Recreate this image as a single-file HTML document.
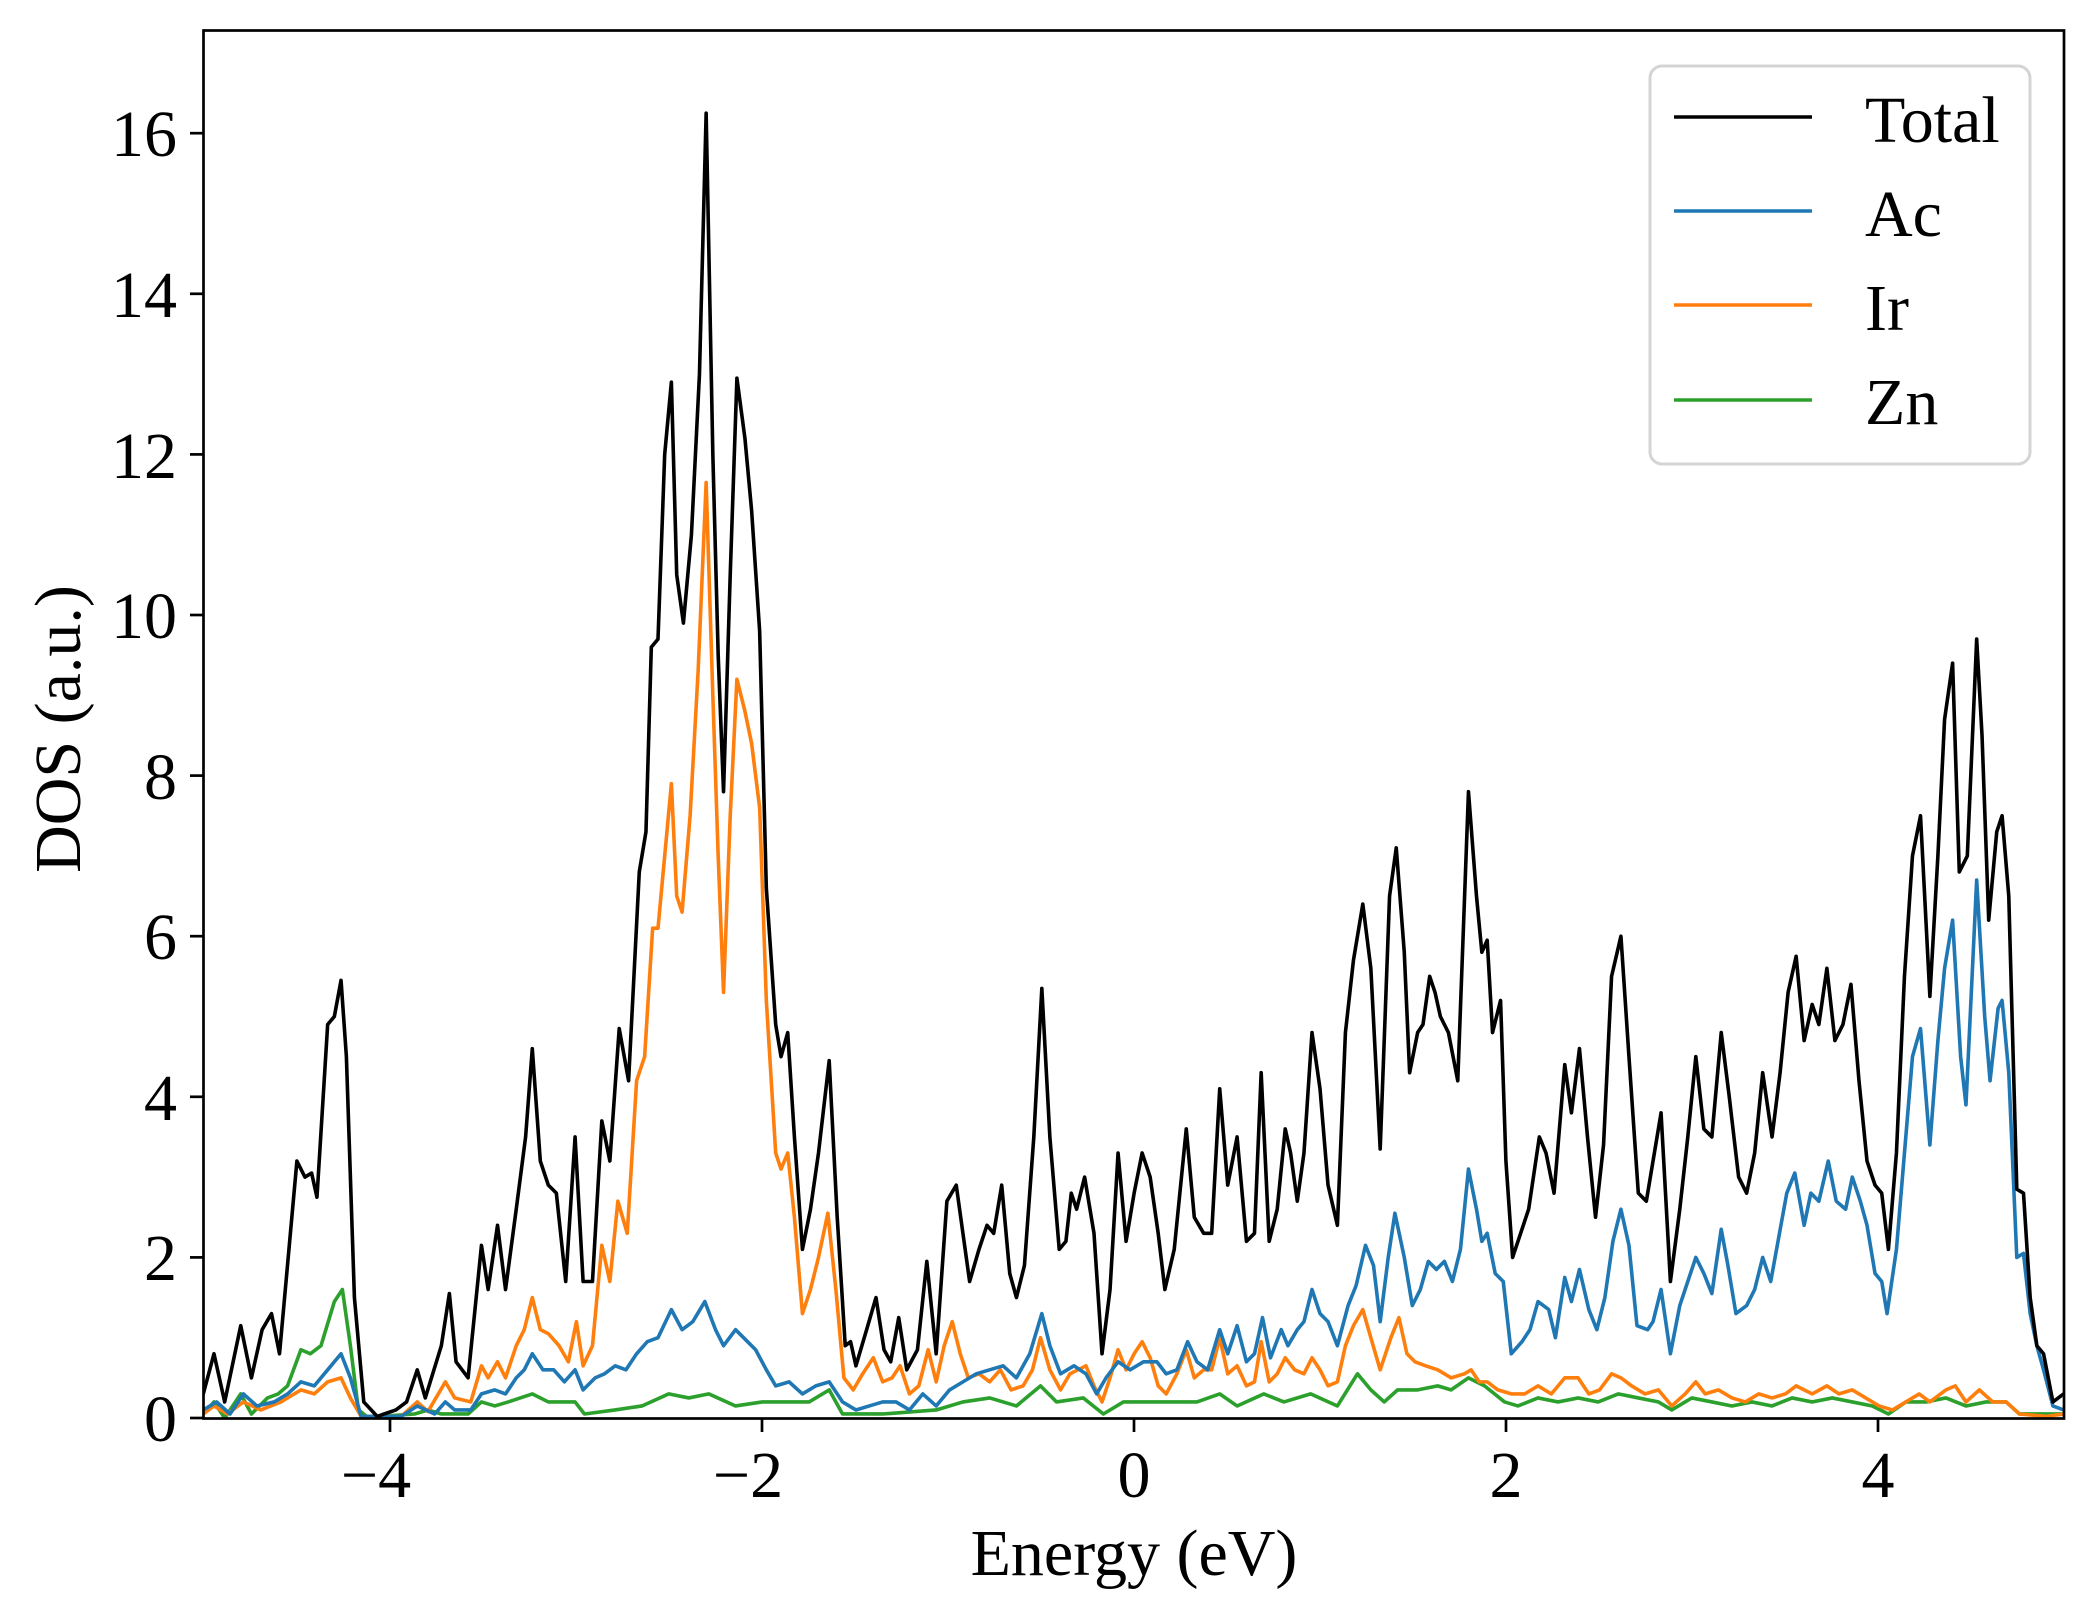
<!DOCTYPE html>
<html><head><meta charset="utf-8"><style>
html,body{margin:0;padding:0;background:#fff;}
svg{display:block;}
text{font-family:"Liberation Serif",serif;fill:#000;}
</style></head><body>
<svg width="2097" height="1617" viewBox="0 0 2097 1617" xmlns="http://www.w3.org/2000/svg">
<defs><clipPath id="c"><rect x="203" y="30" width="1861" height="1389"/></clipPath></defs>
<g clip-path="url(#c)" fill="none" stroke-linejoin="round" stroke-linecap="round">
<g transform="matrix(1.3374 0 0 -80.3 0 1418)">
<polyline vector-effect="non-scaling-stroke" stroke="#2ca02c" stroke-width="3.6" points="152,0.05 160,0.2 168,0 180,0.3 188,0.05 200,0.25 208,0.3 215,0.4 225,0.85 232,0.8 240,0.9 250,1.45 256,1.6 262,0.9 268,0.1 275,0.01 310,0.05 320,0.1 330,0.05 350,0.05 360,0.2 370,0.15 380,0.2 398,0.3 410,0.2 420,0.2 430,0.2 437,0.05 460,0.1 480,0.15 500,0.3 515,0.25 530,0.3 550,0.15 570,0.2 590,0.2 605,0.2 620,0.35 630,0.05 660,0.05 700,0.1 720,0.2 740,0.25 760,0.15 778,0.4 790,0.2 810,0.25 825,0.05 840,0.2 860,0.2 880,0.2 895,0.2 912,0.3 925,0.15 945,0.3 960,0.2 980,0.3 1000,0.15 1015,0.55 1025,0.35 1035,0.2 1045,0.35 1060,0.35 1075,0.4 1085,0.35 1098,0.5 1110,0.4 1125,0.2 1135,0.15 1150,0.25 1165,0.2 1180,0.25 1195,0.2 1210,0.3 1225,0.25 1240,0.2 1250,0.1 1265,0.25 1280,0.2 1295,0.15 1310,0.2 1325,0.15 1340,0.25 1355,0.2 1370,0.25 1385,0.2 1400,0.15 1412,0.05 1425,0.2 1440,0.2 1455,0.25 1470,0.15 1485,0.2 1500,0.2 1510,0.05 1543,0.05"/>
<polyline vector-effect="non-scaling-stroke" stroke="#ff7f0e" stroke-width="3.6" points="152,0.05 160,0.15 170,0.05 182,0.2 195,0.1 210,0.2 225,0.35 235,0.3 245,0.45 255,0.5 262,0.25 270,0.02 300,0.02 312,0.2 320,0.08 333,0.45 340,0.25 352,0.2 360,0.65 365,0.5 372,0.7 378,0.5 386,0.9 392,1.1 398,1.5 404,1.1 410,1.05 418,0.9 425,0.7 431,1.2 436,0.65 443,0.9 450,2.15 456,1.7 462,2.7 469,2.3 476,4.2 482,4.5 488,6.1 492,6.1 497,7 502,7.9 506,6.5 510,6.3 516,7.5 522,9.3 528,11.65 533,9 537,7 541,5.3 546,7.5 551,9.2 557,8.8 562,8.4 568,7.6 573,5.2 580,3.3 584,3.1 589,3.3 594,2.5 600,1.3 606,1.6 612,2 619,2.55 625,1.6 631,0.5 638,0.35 645,0.55 653,0.75 660,0.45 667,0.5 673,0.65 680,0.3 687,0.4 694,0.85 700,0.45 706,0.9 712,1.2 718,0.8 724,0.5 732,0.55 740,0.45 748,0.6 756,0.35 765,0.4 772,0.6 778,1 785,0.6 793,0.35 800,0.55 806,0.6 812,0.65 818,0.4 824,0.2 830,0.5 836,0.85 842,0.6 848,0.8 854,0.95 860,0.75 866,0.4 872,0.3 880,0.55 887,0.85 893,0.5 900,0.6 906,0.6 912,1 918,0.55 925,0.65 932,0.4 938,0.45 943,0.95 949,0.45 955,0.55 961,0.75 968,0.6 975,0.55 981,0.75 987,0.6 993,0.4 1000,0.45 1006,0.9 1012,1.15 1019,1.35 1025,1 1032,0.6 1040,1 1046,1.25 1052,0.8 1058,0.7 1066,0.65 1075,0.6 1085,0.5 1095,0.55 1100,0.6 1106,0.45 1112,0.45 1120,0.35 1130,0.3 1140,0.3 1150,0.4 1160,0.3 1170,0.5 1180,0.5 1188,0.3 1196,0.35 1205,0.55 1212,0.5 1220,0.4 1230,0.3 1240,0.35 1250,0.15 1260,0.3 1268,0.45 1275,0.3 1285,0.35 1295,0.25 1305,0.2 1315,0.3 1325,0.25 1335,0.3 1343,0.4 1355,0.3 1366,0.4 1375,0.3 1385,0.35 1395,0.25 1405,0.15 1415,0.1 1425,0.2 1435,0.3 1443,0.2 1455,0.35 1462,0.4 1470,0.2 1480,0.35 1490,0.2 1500,0.2 1510,0.05 1530,0.02 1543,0.05"/>
<polyline vector-effect="non-scaling-stroke" stroke="#1f77b4" stroke-width="3.6" points="152,0.1 162,0.2 172,0.05 182,0.3 192,0.15 205,0.2 215,0.3 225,0.45 235,0.4 245,0.6 255,0.8 262,0.5 270,0.02 300,0.02 312,0.15 325,0.05 333,0.2 340,0.1 352,0.1 360,0.3 370,0.35 378,0.3 386,0.5 392,0.6 398,0.8 406,0.6 414,0.6 422,0.45 430,0.6 436,0.35 445,0.5 452,0.55 460,0.65 468,0.6 476,0.8 484,0.95 492,1 502,1.35 510,1.1 518,1.2 527,1.45 535,1.1 541,0.9 550,1.1 556,1 565,0.85 573,0.6 580,0.4 590,0.45 600,0.3 610,0.4 620,0.45 630,0.2 640,0.1 650,0.15 660,0.2 670,0.2 680,0.1 690,0.3 700,0.15 710,0.35 720,0.45 730,0.55 740,0.6 750,0.65 760,0.5 770,0.8 779,1.3 785,0.9 793,0.55 803,0.65 812,0.55 820,0.3 827,0.5 836,0.7 845,0.6 855,0.7 865,0.7 872,0.55 880,0.6 888,0.95 895,0.7 903,0.6 912,1.1 918,0.8 925,1.15 932,0.7 938,0.8 944,1.25 950,0.75 958,1.1 963,0.9 970,1.1 975,1.2 981,1.6 987,1.3 993,1.2 1000,0.9 1008,1.4 1014,1.65 1021,2.15 1027,1.9 1032,1.2 1038,2 1043,2.55 1050,2 1056,1.4 1062,1.6 1068,1.95 1074,1.85 1080,1.95 1086,1.7 1092,2.1 1098,3.1 1104,2.6 1108,2.2 1112,2.3 1118,1.8 1124,1.7 1130,0.8 1138,0.95 1144,1.1 1150,1.45 1158,1.35 1163,1 1170,1.75 1175,1.45 1181,1.85 1188,1.35 1194,1.1 1200,1.5 1206,2.2 1212,2.6 1218,2.15 1224,1.15 1232,1.1 1236,1.2 1242,1.6 1249,0.8 1256,1.4 1262,1.7 1268,2 1274,1.8 1280,1.55 1287,2.35 1292,1.9 1298,1.3 1306,1.4 1312,1.6 1318,2 1324,1.7 1330,2.25 1336,2.8 1342,3.05 1349,2.4 1354,2.8 1360,2.7 1367,3.2 1373,2.7 1380,2.6 1385,3 1391,2.7 1396,2.4 1402,1.8 1407,1.7 1411,1.3 1418,2.1 1424,3.3 1430,4.5 1436,4.85 1443,3.4 1449,4.7 1454,5.6 1460,6.2 1466,4.5 1470,3.9 1478,6.7 1484,5 1488,4.2 1494,5.1 1497,5.2 1502,4.3 1508,2 1513,2.05 1518,1.3 1523,0.9 1528,0.6 1535,0.15 1543,0.1"/>
<polyline vector-effect="non-scaling-stroke" stroke="#000" stroke-width="3.6" points="152,0.3 160,0.8 168,0.2 180,1.15 188,0.5 196,1.1 203,1.3 209,0.8 222,3.2 228,3 233,3.05 237,2.75 245,4.9 250,5 255,5.45 259,4.5 265,1.5 272,0.2 282,0.02 296,0.1 304,0.2 312,0.6 318,0.25 330,0.9 336,1.55 341,0.7 350,0.5 360,2.15 365,1.6 372,2.4 378,1.6 386,2.6 393,3.5 398,4.6 404,3.2 410,2.9 416,2.8 423,1.7 430,3.5 436,1.7 443,1.7 450,3.7 456,3.2 463,4.85 470,4.2 478,6.8 483,7.3 487,9.6 492,9.7 497,12 502,12.9 506,10.5 511,9.9 517,11 523,13 528,16.25 533,12 537,9.5 541,7.8 546,10.5 551,12.95 557,12.2 562,11.3 568,9.8 573,6.6 580,4.9 584,4.5 589,4.8 594,3.5 600,2.1 606,2.6 612,3.3 620,4.45 626,2.5 632,0.9 636,0.95 640,0.65 648,1.1 655,1.5 661,0.85 666,0.7 672,1.25 678,0.6 686,0.85 693,1.95 700,0.8 708,2.7 715,2.9 720,2.3 725,1.7 732,2.1 738,2.4 743,2.3 749,2.9 755,1.8 760,1.5 766,1.9 773,3.5 779,5.35 785,3.5 792,2.1 797,2.2 801,2.8 805,2.6 811,3 818,2.3 824,0.8 830,1.6 836,3.3 842,2.2 848,2.8 854,3.3 860,3 866,2.3 871,1.6 878,2.1 887,3.6 893,2.5 900,2.3 906,2.3 912,4.1 918,2.9 925,3.5 932,2.2 938,2.3 943,4.3 949,2.2 955,2.6 961,3.6 965,3.3 970,2.7 975,3.3 981,4.8 987,4.1 993,2.9 1000,2.4 1006,4.8 1012,5.7 1019,6.4 1025,5.6 1032,3.35 1039,6.5 1044,7.1 1050,5.8 1054,4.3 1060,4.8 1064,4.9 1069,5.5 1073,5.3 1077,5 1083,4.8 1090,4.2 1098,7.8 1104,6.5 1108,5.8 1112,5.95 1116,4.8 1122,5.2 1126,3.2 1131,2 1137,2.3 1143,2.6 1151,3.5 1156,3.3 1162,2.8 1170,4.4 1175,3.8 1181,4.6 1187,3.5 1193,2.5 1199,3.4 1205,5.5 1212,6 1218,4.5 1225,2.8 1231,2.7 1236,3.2 1242,3.8 1249,1.7 1256,2.6 1262,3.5 1268,4.5 1274,3.6 1280,3.5 1287,4.8 1293,4 1300,3 1306,2.8 1312,3.3 1318,4.3 1325,3.5 1331,4.3 1337,5.3 1343,5.75 1349,4.7 1355,5.15 1360,4.9 1366,5.6 1372,4.7 1378,4.9 1384,5.4 1390,4.2 1396,3.2 1402,2.9 1407,2.8 1412,2.1 1418,3.3 1424,5.5 1430,7 1436,7.5 1443,5.25 1449,7 1454,8.7 1460,9.4 1465,6.8 1471,7 1478,9.7 1482,8.5 1487,6.2 1493,7.3 1497,7.5 1502,6.5 1508,2.85 1513,2.8 1518,1.5 1523,0.9 1528,0.8 1535,0.2 1543,0.3"/>
</g></g>
<rect x="203.5" y="30.5" width="1860.5" height="1388" fill="none" stroke="#000" stroke-width="2.7"/>
<g stroke="#000" stroke-width="2.7">
<line x1="390" y1="1419" x2="390" y2="1432"/><line x1="762" y1="1419" x2="762" y2="1432"/><line x1="1134" y1="1419" x2="1134" y2="1432"/><line x1="1506" y1="1419" x2="1506" y2="1432"/><line x1="1878" y1="1419" x2="1878" y2="1432"/>
<line x1="190" y1="1418" x2="203" y2="1418"/><line x1="190" y1="1257.4" x2="203" y2="1257.4"/><line x1="190" y1="1096.8" x2="203" y2="1096.8"/><line x1="190" y1="936.2" x2="203" y2="936.2"/><line x1="190" y1="775.6" x2="203" y2="775.6"/><line x1="190" y1="615" x2="203" y2="615"/><line x1="190" y1="454.4" x2="203" y2="454.4"/><line x1="190" y1="293.8" x2="203" y2="293.8"/><line x1="190" y1="133.2" x2="203" y2="133.2"/>
</g>
<g font-size="66" text-anchor="middle">
<text x="376" y="1497">−4</text><text x="748" y="1497">−2</text><text x="1134" y="1497">0</text><text x="1506" y="1497">2</text><text x="1878" y="1497">4</text>
</g>
<g font-size="66" text-anchor="end">
<text x="177" y="1441">0</text><text x="177" y="1280">2</text><text x="177" y="1120">4</text><text x="177" y="959">6</text><text x="177" y="799">8</text><text x="177" y="638">10</text><text x="177" y="478">12</text><text x="177" y="317">14</text><text x="177" y="156">16</text>
</g>
<text x="1134" y="1575" font-size="66" text-anchor="middle">Energy (eV)</text>
<text transform="translate(80,729) rotate(-90)" font-size="66" text-anchor="middle">DOS (a.u.)</text>
<rect x="1650" y="66" width="380" height="398" rx="12" fill="#fff" fill-opacity="0.8" stroke="#d4d4d4" stroke-width="3"/>
<g stroke-width="3.6">
<line x1="1674" y1="117" x2="1812" y2="117" stroke="#000"/>
<line x1="1674" y1="211" x2="1812" y2="211" stroke="#1f77b4"/>
<line x1="1674" y1="305" x2="1812" y2="305" stroke="#ff7f0e"/>
<line x1="1674" y1="400" x2="1812" y2="400" stroke="#2ca02c"/>
</g>
<g font-size="66">
<text x="1865" y="142">Total</text><text x="1865" y="236">Ac</text><text x="1865" y="330">Ir</text><text x="1865" y="424">Zn</text>
</g>
</svg>
</body></html>
